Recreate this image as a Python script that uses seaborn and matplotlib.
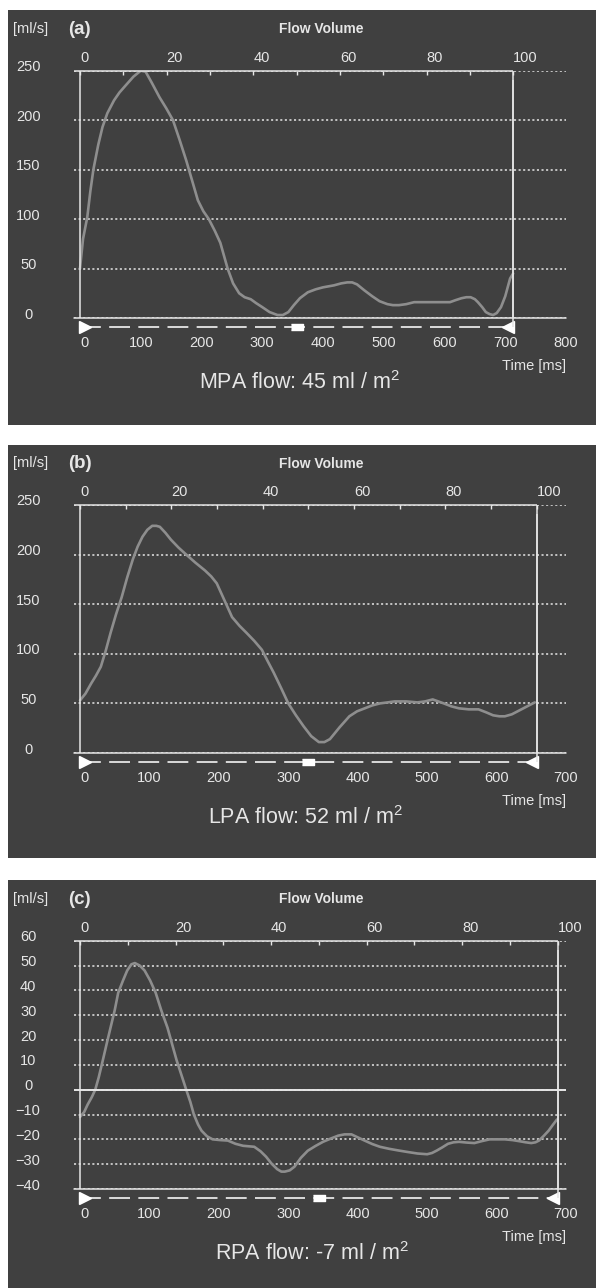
import numpy as np
import pandas as pd
import matplotlib
matplotlib.use('Agg')
import matplotlib.pyplot as plt
import matplotlib.transforms as mtransforms
from matplotlib.patches import Rectangle
import seaborn as sns

# (a) main pulmonary artery, time [ms] / flow [ml/s]
mpa_time = [0, 5, 12, 17, 22, 30, 37, 45, 56, 65, 75, 88, 100, 108, 118, 131, 142, 153, 164,
            175, 185, 194, 203, 212, 222, 231, 237, 243, 252, 262, 271, 281, 290, 300, 312,
            325, 334, 343, 352, 362, 375, 388, 400, 418, 430, 440, 448, 456, 468, 481, 493,
            506, 515, 525, 537, 550, 562, 575, 592, 609, 618, 628, 636, 643, 650, 655, 662,
            668, 674, 680, 686, 693, 700, 708, 713]
mpa_flow = [50, 80, 102, 128, 150, 175, 193, 207, 220, 228, 235, 244, 250, 249, 238, 223, 212,
            200, 180, 159, 138, 119, 108, 100, 88, 76, 63, 50, 35, 25, 21, 19, 15, 11, 6,
            3, 3, 6, 13, 20, 26, 29, 31, 33, 35, 36, 36, 34, 28, 22, 17,
            14, 13, 13, 14, 16, 16, 16, 16, 16, 18, 20, 21, 21, 19, 16, 11,
            6, 4, 3, 5, 11, 22, 40, 45]

# (b) left pulmonary artery
lpa_time = [0, 8, 16, 23, 30, 37, 44, 52, 60, 68, 76, 83, 90, 97, 104, 110, 115, 123, 131,
            142, 153, 166, 180, 189, 197, 208, 219, 230, 240, 251, 262, 270, 279, 290, 300,
            311, 322, 333, 344, 352, 360, 374, 388, 399, 410, 421, 432, 443, 453, 470, 486,
            497, 508, 516, 524, 535, 546, 560, 574, 585, 595, 604, 612, 622, 633, 644, 655]
lpa_flow = [53, 60, 70, 78, 87, 103, 121, 140, 157, 177, 195, 208, 218, 225, 229, 229, 228,
            222, 215, 207, 200, 192, 184, 178, 171, 154, 137, 128, 121, 113, 104, 93, 81, 65,
            50, 38, 27, 17, 11, 11, 14, 26, 37, 42, 45, 48, 50, 51, 52, 52, 51,
            52, 54, 52, 50, 47, 45, 44, 44, 41, 38, 37, 37, 39, 43, 47, 51]

# (c) right pulmonary artery
rpa_time = [0, 6, 11, 17, 22, 27, 33, 38, 44, 50, 55, 62, 68, 74, 79, 86, 93, 101, 109, 117,
            126, 133, 139, 146, 153, 159, 164, 170, 175, 183, 191, 202, 213, 224, 235, 243,
            251, 260, 268, 276, 284, 290, 295, 302, 309, 318, 328, 339, 350, 361, 372, 381,
            391, 400, 410, 421, 432, 445, 459, 472, 486, 500, 507, 514, 522, 530, 538, 546,
            557, 568, 579, 590, 601, 612, 623, 634, 642, 650, 656, 661, 668, 675, 681, 687]
rpa_flow = [-11, -9, -6, -3, 0, 5, 12, 18, 25, 32, 39, 44, 48, 50.5, 51, 50, 48, 44, 39, 32,
            25, 18, 12, 6, 0, -5, -10, -14, -16.5, -18.8, -20, -20.3, -20.5, -21.8, -22.6, -22.8,
            -23, -24.8, -27, -29.8, -32, -33, -33, -32.5, -31, -27.5, -24.6, -22.7, -21, -19.7, -18.5, -18,
            -18, -19.2, -20.5, -21.9, -23, -23.8, -24.5, -25.1, -25.7, -26, -25.5, -24.5, -23.2, -21.8, -21.2, -21,
            -21.3, -21.5, -20.7, -20, -20, -20, -20.3, -20.8, -21.2, -21.5, -21.2, -20.5, -18.6, -16.5, -14.2, -12]

panel_tags = ['(a)', '(b)', '(c)']
flow_labels = ['MPA flow: 45 ml / m$^{2}$', 'LPA flow: 52 ml / m$^{2}$', 'RPA flow: -7 ml / m$^{2}$']
time_max = [800, 700, 700]
cycle_ms = [713, 658, 688]
y_ranges = [(0, 250), (0, 250), (-40, 60)]
y_steps = [50, 50, 10]
pct_ticks = [0, 20, 40, 60, 80, 100]
pct_minor = [10, 30, 50, 70, 90]

series = [(mpa_time, mpa_flow), (lpa_time, lpa_flow), (rpa_time, rpa_flow)]

BG = '#404040'
FG = '#e6e6e6'
CURVE = '#8e8e8e'

sns.set_style('dark', rc={'axes.facecolor': BG, 'figure.facecolor': 'white'})
plt.rcParams['font.family'] = ['Liberation Sans', 'DejaVu Sans']
plt.rcParams['mathtext.fontset'] = 'custom'
plt.rcParams['mathtext.rm'] = 'Liberation Sans'
plt.rcParams['mathtext.it'] = 'Liberation Sans'
plt.rcParams['lines.scale_dashes'] = False

W, H = 596, 1288
fig = plt.figure(figsize=(W / 100, H / 100), dpi=100)

# pixel layout of each panel: background box top/bottom, axes top/bottom
bg_boxes = [(10, 425), (445, 858), (880, 1288)]
ax_rows = [(70.7, 318), (505, 753), (940.7, 1189)]
label_x = [299, 306, 312]


def ftext(x, y, s, **kw):
    fig.text(x / W, 1 - y / H, s, color=FG, **kw)


for i in range(3):
    top_bg, bot_bg = bg_boxes[i]
    fig.patches.append(Rectangle((8 / W, 1 - bot_bg / H), 588 / W, (bot_bg - top_bg) / H,
                                 transform=fig.transFigure, facecolor=BG, edgecolor='none', zorder=-1))

    top, bot = ax_rows[i]
    xmax = time_max[i]
    cyc = cycle_ms[i]
    ymin, ymax = y_ranges[i]
    pad = 6 * xmax / 486
    ax = fig.add_axes([74 / W, 1 - bot / H, 492 / W, (bot - top) / H])
    ax.set_facecolor(BG)
    for sp in ax.spines.values():
        sp.set_visible(False)
    ax.set_xlim(-pad, xmax)
    ax.set_ylim(ymin, ymax)

    t, f = series[i]
    df = pd.DataFrame({'time': t, 'flow': f})
    sns.lineplot(data=df, x='time', y='flow', ax=ax, color=CURVE, linewidth=1.9,
                 estimator=None, zorder=2, solid_joinstyle='round', solid_capstyle='round')
    ax.set_xlabel('')
    ax.set_ylabel('')

    # grid
    yt = np.arange(ymin, ymax + 1, y_steps[i])
    ax.set_yticks(yt)
    ax.grid(axis='y', color=FG, linestyle=(0, (1.5, 1.8)), linewidth=1.1)
    ax.grid(axis='x', visible=False)
    ax.tick_params(axis='y', length=0, pad=33, labelsize=10.5, labelcolor=FG)
    up = mtransforms.ScaledTranslation(0, 0.05, fig.dpi_scale_trans)
    for lab in ax.get_yticklabels():
        lab.set_ha('center')
        lab.set_transform(lab.get_transform() + up)

    # frame
    ax.axhline(ymin, color=FG, lw=1.1, clip_on=False, zorder=3)
    ax.hlines(ymax, -pad, cyc, color=FG, lw=1.1, clip_on=False, zorder=3)
    ax.vlines([0, cyc], ymin, ymax, color=FG, lw=1.1, clip_on=False, zorder=3)
    if ymin < 0:
        ax.axhline(0, color=FG, lw=1.4, zorder=3)

    # bottom time axis
    ax.set_xticks(np.arange(0, xmax + 1, 100))
    ax.tick_params(axis='x', direction='out', length=6.5, width=1, color=FG,
                   labelcolor=FG, labelsize=10.5, pad=6.5)
    ax.get_xticklabels()[0].set_ha('left')

    # cycle bar below the axis
    down = mtransforms.ScaledTranslation(0, -0.09, fig.dpi_scale_trans)
    tr = ax.get_xaxis_transform() + down
    ax.plot([0, cyc], [0, 0], transform=tr, color=FG, lw=1.3, dashes=(15, 6), clip_on=False)
    ax.plot([0], [0], transform=tr + mtransforms.ScaledTranslation(0.05, 0, fig.dpi_scale_trans),
            marker='>', ms=8, color='white', clip_on=False)
    ax.plot([cyc], [0], transform=tr + mtransforms.ScaledTranslation(-0.05, 0, fig.dpi_scale_trans),
            marker='<', ms=8, color='white', clip_on=False)
    ax.plot([cyc / 2], [0], transform=tr, marker=[(-2, -1), (2, -1), (2, 1), (-2, 1)],
            ms=9, color='white', clip_on=False)
    ax.vlines([cyc], 0, 1, transform=ax.get_xaxis_transform() + down, color=FG, lw=1.1, clip_on=False)

    # top flow-volume axis in percent of the cycle
    sec = ax.secondary_xaxis('top', functions=(lambda x, c=cyc: x * 100 / c,
                                               lambda p, c=cyc: p * c / 100))
    sec.set_xticks(pct_ticks)
    sec.set_xticks(pct_minor, minor=True)
    sec.tick_params(which='both', direction='in', length=3, width=1, color=FG,
                    labelcolor=FG, labelsize=10.5, pad=4)
    sec.spines['top'].set_visible(False)
    for lab in sec.get_xticklabels():
        lab.set_ha('left')

    # texts
    ftext(31, top - 41.5, '[ml/s]', fontsize=10.5, ha='center', va='center')
    ftext(68, top - 41.5, panel_tags[i], fontsize=13.5, fontweight='bold', ha='left', va='center')
    ftext(321, top - 41.5, 'Flow Volume', fontsize=10, fontweight='bold', ha='center', va='center')
    ftext(566, bot + 48, 'Time [ms]', fontsize=10.5, ha='right', va='center')
    ftext(label_x[i], bot + 65, flow_labels[i], fontsize=15.5, ha='center', va='center')

fig.savefig('out.png', dpi=100)
